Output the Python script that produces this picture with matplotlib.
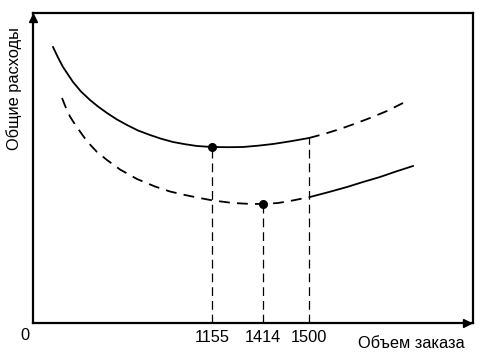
import numpy as np
import matplotlib
matplotlib.use("Agg")
import matplotlib.pyplot as plt

plt.rcParams['font.family'] = ['Liberation Sans', 'DejaVu Sans']

### Data (schematic units) ###

# upper curve: solid up to Q=1500, dashed after it
up_solid_x = [20, 25, 30, 40, 48, 57, 65, 74, 84, 94, 105, 117, 128, 140,
              152, 164, 179, 195, 210, 225, 240, 258, 276]
up_solid_y = [276, 265.5, 256, 241, 231.5, 223, 216.5, 210, 203.5, 198, 192.5,
              188, 184.3, 181, 178.8, 177, 176, 175.8, 176, 177.3, 179, 181.8, 185]
up_dash_x = [276, 292, 307, 322, 337, 354, 370]
up_dash_y = [185, 189.3, 194, 199.3, 205, 212, 220]

# lower curve: dashed up to Q=1500, solid after it
low_dash_x = [29, 33, 37, 42, 47, 52, 57, 64, 74, 87, 104, 122, 137, 152,
              164, 180, 200, 215, 230, 245, 257, 277]
low_dash_y = [225, 215, 206.5, 198.5, 191.5, 184.5, 178.5, 171, 163, 153.5, 144,
              136.5, 131.5, 128, 125.5, 122.5, 120, 119.2, 119, 120, 122, 126]
low_solid_x = [277, 296, 314, 330, 347, 363, 380]
low_solid_y = [126, 131, 136, 141, 146, 151.5, 157]

# marked order sizes
tick_pos = [179, 230, 276]
tick_labels = ["1155", "1414", "1500"]
tick_top = [176, 119, 185]  # where the drop lines start
min_x = [179, 230]
min_y = [176, 119]

### Plot ###

fig = plt.figure(figsize=(4.85, 3.59), dpi=100)
ax = fig.add_axes([33/485, 36/359, 440/485, 310/359])
ax.set_xlim(0, 440)
ax.set_ylim(0, 310)

lw = 1.3
ax.plot(up_solid_x, up_solid_y, color='black', lw=lw)
ax.plot(up_dash_x, up_dash_y, color='black', lw=lw, dashes=(6, 4))
ax.plot(low_dash_x, low_dash_y, color='black', lw=lw, dashes=(6, 4))
ax.plot(low_solid_x, low_solid_y, color='black', lw=lw)

ax.vlines(tick_pos, 0, tick_top, colors='black', lw=0.9,
          linestyles=(0, (7, 4)))
ax.plot(min_x, min_y, 'o', color='black', ms=5.5)

# frame and axis arrows
for s in ax.spines.values():
    s.set_linewidth(1.6)
ax.plot([0], [305], marker='^', color='black', ms=6, clip_on=False)
ax.plot([434], [0], marker='>', color='black', ms=6, clip_on=False)

fs = 11.8
ax.set_yticks([])
ax.set_xticks(tick_pos, tick_labels, fontsize=fs)
ax.tick_params(axis='x', length=0, pad=5)

ax.text(-8, -5, "0", ha='center', va='top', fontsize=fs)
fig.text(411/485, 1 - 343/359, "Объем заказа", ha='center', va='center',
         fontsize=fs)
fig.text(14/485, 1 - 89/359, "Общие расходы", ha='center', va='center',
         rotation=90, fontsize=fs)

fig.savefig("out.png", dpi=100)
